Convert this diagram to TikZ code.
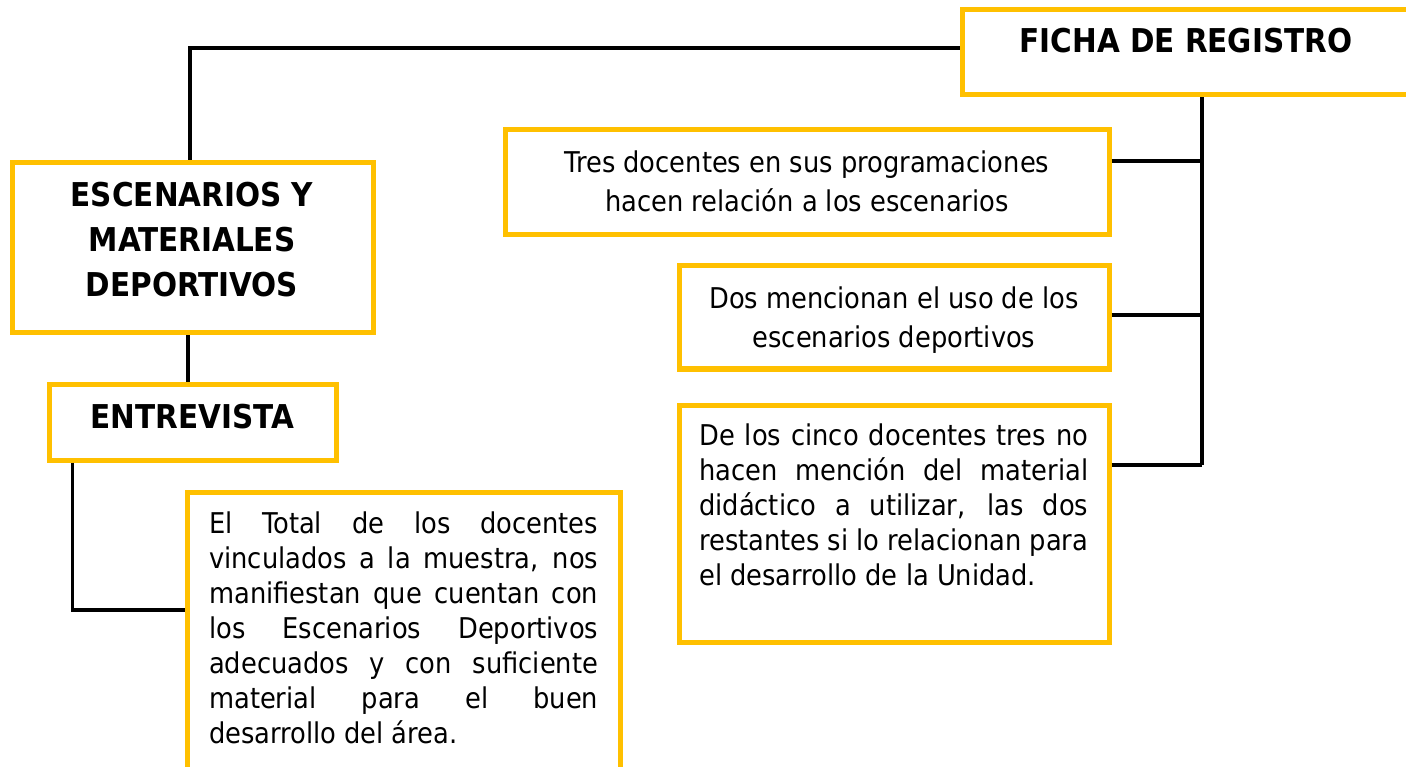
\documentclass[tikz,border=0pt]{standalone}
\usepackage{fontspec}
\setmainfont{DejaVu Sans Condensed}
\definecolor{boxyellow}{HTML}{FFC000}
\newcommand\jl[1]{\makebox[389pt][s]{#1}}
\begin{document}
\begin{tikzpicture}[x=1pt,y=-1pt,
  box/.style={draw=boxyellow, line width=5pt, inner sep=0pt},
  conn/.style={draw=black, line width=3.5pt},
  txt/.style={font=\fontsize{28.6}{35}\selectfont, inner sep=0pt},
  ctxt/.style={font=\fontsize{28.6}{39.5}\selectfont, inner sep=0pt, align=center},
  btxt/.style={font=\bfseries\fontsize{32.8}{45}\selectfont, inner sep=0pt, align=center}]
\useasboundingbox (0,0) rectangle (1406,767);
\clip (0,0) rectangle (1406,767);
% boxes
\node[box, minimum width=458pt, minimum height=85pt] (ficha) at (1191,52.5) {};
\node[box, minimum width=604pt, minimum height=105pt] (tres) at (807,182.5) {};
\node[box, minimum width=430pt, minimum height=103pt] (dos) at (894,317.5) {};
\node[box, minimum width=430pt, minimum height=237pt] (delos) at (894,523.5) {};
\node[box, minimum width=361pt, minimum height=170pt] (esc) at (192.5,248) {};
\node[box, minimum width=287pt, minimum height=76pt] (ent) at (192.5,422) {};
\node[box, minimum width=433pt, minimum height=308pt] (total) at (403.5,646) {};
% texts
\node[btxt, anchor=base] (fichat) at (1186,53) {FICHA DE REGISTRO};
\node[btxt, anchor=base] (esct) at (192,297) {ESCENARIOS Y\\MATERIALES\\DEPORTIVOS};
\node[btxt, anchor=base] (entt) at (192.5,428) {ENTREVISTA};
\node[ctxt, anchor=base] (trest) at (807,212) {Tres docentes en sus programaciones\\hacen relación a los escenarios};
\node[ctxt, anchor=base] (dost) at (894,348) {Dos mencionan el uso de los\\escenarios deportivos};
\node[txt, anchor=base west, text width=389pt, align=justify] (delost) at (699,445) {\jl{De los cinco docentes tres no}\\\jl{hacen mención del material}\\\jl{didáctico a utilizar, las dos}\\\jl{restantes si lo relacionan para}\\el desarrollo de la Unidad.};
\node[txt, anchor=base west, text width=389pt, align=justify] (totalt) at (209,533) {\jl{El Total de los docentes}\\\jl{vinculados a la muestra, nos}\\\jl{manifiestan que cuentan con}\\\jl{los Escenarios Deportivos}\\\jl{adecuados y con suficiente}\\\jl{material para el buen}\\desarrollo del área.};
% connectors
\coordinate (spine) at (1202,465);
\draw[conn] ([yshift=4.5pt]ficha.west) -| ([xshift=-2.5pt]esc.north);
\draw[conn] ([xshift=-4.5pt]esc.south) -- ([xshift=-4.5pt]ent.north);
\draw[conn] ([xshift=26pt]ent.south west) |- ([yshift=36pt]total.west);
\draw[conn] (spine |- ficha.south) -- (spine);
\draw[conn] ([yshift=21.5pt]tres.east) -- ([yshift=21.5pt]tres.east -| spine);
\draw[conn] ([yshift=2.5pt]dos.east) -- ([yshift=2.5pt]dos.east -| spine);
\draw[conn] ([yshift=58.5pt]delos.east) -- (spine);
\end{tikzpicture}
\end{document}
